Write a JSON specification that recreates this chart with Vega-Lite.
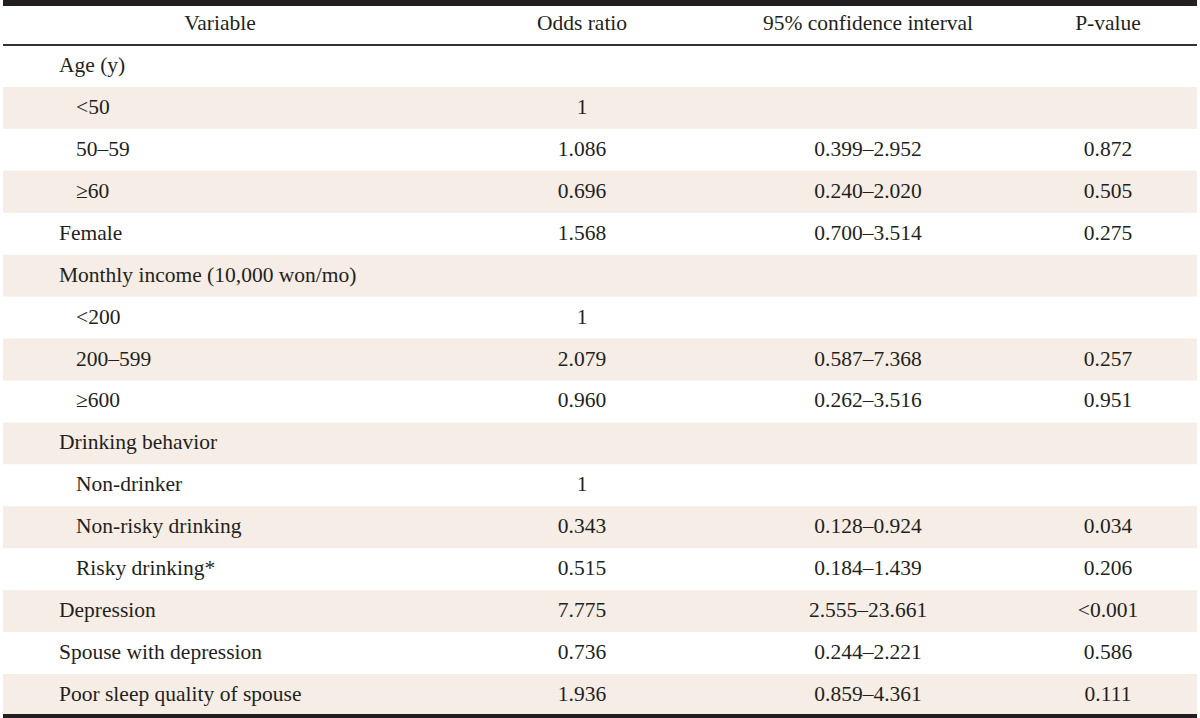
{
  "$schema": "https://vega.github.io/schema/vega-lite/v6.json",
  "width": 1200,
  "height": 718,
  "autosize": {"type": "fit", "contains": "padding"},
  "padding": 0,
  "background": "white",
  "config": {"view": {"stroke": null}, "text": {"font": "Liberation Serif", "fontSize": 21.5, "color": "#231f20", "baseline": "middle"}},
  "data": {"values": [
    {"row": 0, "label": "Variable", "or": "Odds ratio", "ci": "95% confidence interval", "p": "P-value"},
    {"row": 1, "label": "Age (y)", "level": 0},
    {"row": 2, "label": "<50", "level": 1, "or": "1"},
    {"row": 3, "label": "50–59", "level": 1, "or": "1.086", "ci": "0.399–2.952", "p": "0.872"},
    {"row": 4, "label": "≥60", "level": 1, "or": "0.696", "ci": "0.240–2.020", "p": "0.505"},
    {"row": 5, "label": "Female", "level": 0, "or": "1.568", "ci": "0.700–3.514", "p": "0.275"},
    {"row": 6, "label": "Monthly income (10,000 won/mo)", "level": 0},
    {"row": 7, "label": "<200", "level": 1, "or": "1"},
    {"row": 8, "label": "200–599", "level": 1, "or": "2.079", "ci": "0.587–7.368", "p": "0.257"},
    {"row": 9, "label": "≥600", "level": 1, "or": "0.960", "ci": "0.262–3.516", "p": "0.951"},
    {"row": 10, "label": "Drinking behavior", "level": 0},
    {"row": 11, "label": "Non-drinker", "level": 1, "or": "1"},
    {"row": 12, "label": "Non-risky drinking", "level": 1, "or": "0.343", "ci": "0.128–0.924", "p": "0.034"},
    {"row": 13, "label": "Risky drinking*", "level": 1, "or": "0.515", "ci": "0.184–1.439", "p": "0.206"},
    {"row": 14, "label": "Depression", "level": 0, "or": "7.775", "ci": "2.555–23.661", "p": "<0.001"},
    {"row": 15, "label": "Spouse with depression", "level": 0, "or": "0.736", "ci": "0.244–2.221", "p": "0.586"},
    {"row": 16, "label": "Poor sleep quality of spouse", "level": 0, "or": "1.936", "ci": "0.859–4.361", "p": "0.111"}
  ]},
  "encoding": {
    "y": {"field": "row", "type": "ordinal", "axis": null,
      "scale": {"domain": [0,1,2,3,4,5,6,7,8,9,10,11,12,13,14,15,16], "paddingInner": 0, "paddingOuter": 0}}
  },
  "layer": [
    {
      "transform": [{"filter": "datum.row > 0 && datum.row % 2 == 0"}],
      "mark": {"type": "rect", "color": "#f5ede6"}
    },
    {
      "mark": {"type": "rule", "color": "#231f20", "strokeWidth": 5},
      "encoding": {"y": {"datum": 0, "type": "ordinal", "bandPosition": 0}}
    },
    {
      "mark": {"type": "rule", "color": "#333333", "strokeWidth": 1.5},
      "encoding": {"y": {"datum": 1, "type": "ordinal", "bandPosition": 0}}
    },
    {
      "mark": {"type": "rule", "color": "#231f20", "strokeWidth": 4},
      "encoding": {"y": {"datum": 16, "type": "ordinal", "bandPosition": 1}}
    },
    {
      "transform": [{"filter": "datum.row == 0"}],
      "mark": {"type": "text", "align": "center"},
      "encoding": {"x": {"value": 217}, "text": {"field": "label"}}
    },
    {
      "transform": [{"filter": "datum.row > 0"}],
      "mark": {"type": "text", "align": "left"},
      "encoding": {
        "x": {"field": "level", "type": "nominal", "axis": null,
          "scale": {"type": "point", "domain": [0, 1], "range": [56, 73], "padding": 0}},
        "text": {"field": "label"}
      }
    },
    {
      "transform": [{"filter": "datum.or != null"}],
      "mark": {"type": "text", "align": "center"},
      "encoding": {"x": {"value": 579}, "text": {"field": "or"}}
    },
    {
      "transform": [{"filter": "datum.ci != null"}],
      "mark": {"type": "text", "align": "center"},
      "encoding": {"x": {"value": 865}, "text": {"field": "ci"}}
    },
    {
      "transform": [{"filter": "datum.p != null"}],
      "mark": {"type": "text", "align": "center"},
      "encoding": {"x": {"value": 1105}, "text": {"field": "p"}}
    }
  ]
}
